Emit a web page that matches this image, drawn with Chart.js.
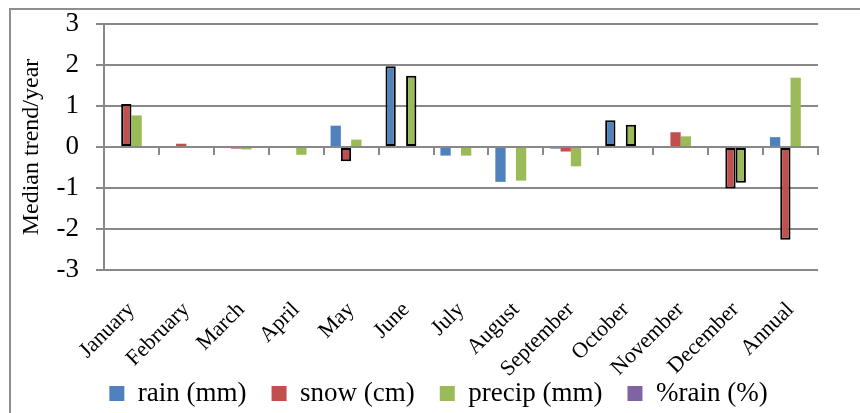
<!DOCTYPE html>
<html>
<head>
<meta charset="utf-8">
<script src="https://cdn.jsdelivr.net/npm/chart.js@4"></script>
<style>
  html, body { margin: 0; padding: 0; background: #fff; overflow: hidden; }
  #wrap { position: relative; width: 860px; height: 413px; overflow: hidden; }
  #frame { position: absolute; left: 9px; top: 8px; width: 900px; height: 450px;
           border: 2px solid #8e8e8e; box-sizing: border-box; }
  #c { position: absolute; left: 0; top: 0; }
</style>
</head>
<body>
<div id="wrap">
  <div id="frame"></div>
  <canvas id="c" width="860" height="413"></canvas>
</div>
<script>
// Median trend per year, by month and for the whole year
const categories = ['January', 'February', 'March', 'April', 'May', 'June', 'July',
                    'August', 'September', 'October', 'November', 'December', 'Annual'];

const rainMm   = [0, 0, 0, 0, 0.52, 1.97, -0.21, -0.85, -0.04, 0.65, 0, 0, 0.24];
const snowCm   = [1.05, 0.08, -0.04, 0, -0.35, 0, 0, 0, -0.11, -0.02, 0.36, -1.01, -2.26];
const precipMm = [0.77, 0, -0.06, -0.19, 0.18, 1.74, -0.21, -0.82, -0.47, 0.54, 0.26, -0.87, 1.69];
const rainPct  = [0, 0, 0, 0, 0, 0, 0, 0, 0, 0, 0, 0, 0];

// Trends flagged as significant (outlined in black)
const rainSignificant   = [false, false, false, false, false, true, false, false, false, true, false, false, false];
const snowSignificant   = [true, false, false, false, true, false, false, false, false, false, false, true, true];
const precipSignificant = [false, false, false, false, false, true, false, false, false, true, false, true, false];
const pctSignificant    = [false, false, false, false, false, false, false, false, false, false, false, false, false];

const yTicks = [-3, -2, -1, 0, 1, 2, 3];

const SERIF = "'Liberation Serif', 'Times New Roman', serif";
const GRID = '#888888';

function series(label, values, significant, color) {
  return {
    label: label,
    data: values,
    backgroundColor: color,
    borderColor: '#000000',
    borderWidth: ctx => significant[ctx.dataIndex] ? 2 : 0,
    borderSkipped: false,
    xAxisID: 'x',
    yAxisID: 'y',
    categoryPercentage: 0.75,
    barPercentage: 1.0
  };
}

// Rotated month labels may run down beside the legend: let them draw below the axis box.
const labelRoom = {
  id: 'labelRoom',
  afterLayout(chart) {
    chart.scales.x.bottom = chart.height;
  }
};

new Chart(document.getElementById('c'), {
  type: 'bar',
  data: {
    labels: categories,
    datasets: [
      series('rain (mm)', rainMm, rainSignificant, '#4F81BD'),
      series('snow (cm)', snowCm, snowSignificant, '#C0504D'),
      series('precip (mm)', precipMm, precipSignificant, '#9BBB59'),
      series('%rain (%)', rainPct, pctSignificant, '#8064A2')
    ]
  },
  plugins: [labelRoom],
  options: {
    responsive: false,
    animation: false,
    devicePixelRatio: 1,
    layout: { padding: { left: 17, right: 0, top: 24, bottom: 0 } },
    plugins: {
      tooltip: { enabled: false },
      legend: {
        position: 'bottom',
        maxHeight: 58,
        labels: {
          boxWidth: 15,
          boxHeight: 15,
          padding: 25,
          color: '#000000',
          font: { family: SERIF, size: 27 },
          // plain filled swatches, without the outline used for significant bars
          generateLabels: chart => Chart.defaults.plugins.legend.labels.generateLabels(chart)
            .map(item => Object.assign(item, { lineWidth: 0 }))
        }
      }
    },
    scales: {
      x: {
        type: 'category',
        position: 'bottom',
        offset: true,
        grid: { display: false, drawTicks: false },
        border: { display: false },
        ticks: {
          autoSkip: false,
          minRotation: 45,
          maxRotation: 45,
          padding: 27,
          color: '#000000',
          font: { family: SERIF, size: 22 }
        },
        afterFit: s => { s.height = 85; }
      },
      // horizontal axis line through zero with category tick marks
      xZero: {
        type: 'category',
        position: { y: 0 },
        offset: true,
        grid: { offset: true, drawOnChartArea: false, drawTicks: true, tickLength: 7, color: GRID, lineWidth: 2 },
        border: { display: true, color: GRID, width: 2 },
        ticks: { display: false }
      },
      y: {
        position: 'left',
        min: yTicks[0],
        max: yTicks[yTicks.length - 1],
        afterBuildTicks: s => { s.ticks = yTicks.map(v => ({ value: v })); },
        ticks: {
          padding: 17,
          color: '#000000',
          font: { family: SERIF, size: 27 }
        },
        grid: { color: GRID, lineWidth: 2, tickLength: 8 },
        border: { color: GRID, width: 2 },
        title: {
          display: true,
          text: 'Median trend/year',
          color: '#000000',
          padding: 0,
          font: { family: SERIF, size: 24 }
        },
        afterFit: s => {
          s.width = 87;
          s.paddingTop = 0;
          s.paddingBottom = 0;
        }
      },
      // empty gutter to the right of the plot
      rightGutter: {
        type: 'linear',
        position: 'right',
        grid: { display: false, drawTicks: false },
        border: { display: false },
        ticks: { display: false },
        afterFit: s => { s.width = 42; }
      }
    }
  }
});
</script>
</body>
</html>
